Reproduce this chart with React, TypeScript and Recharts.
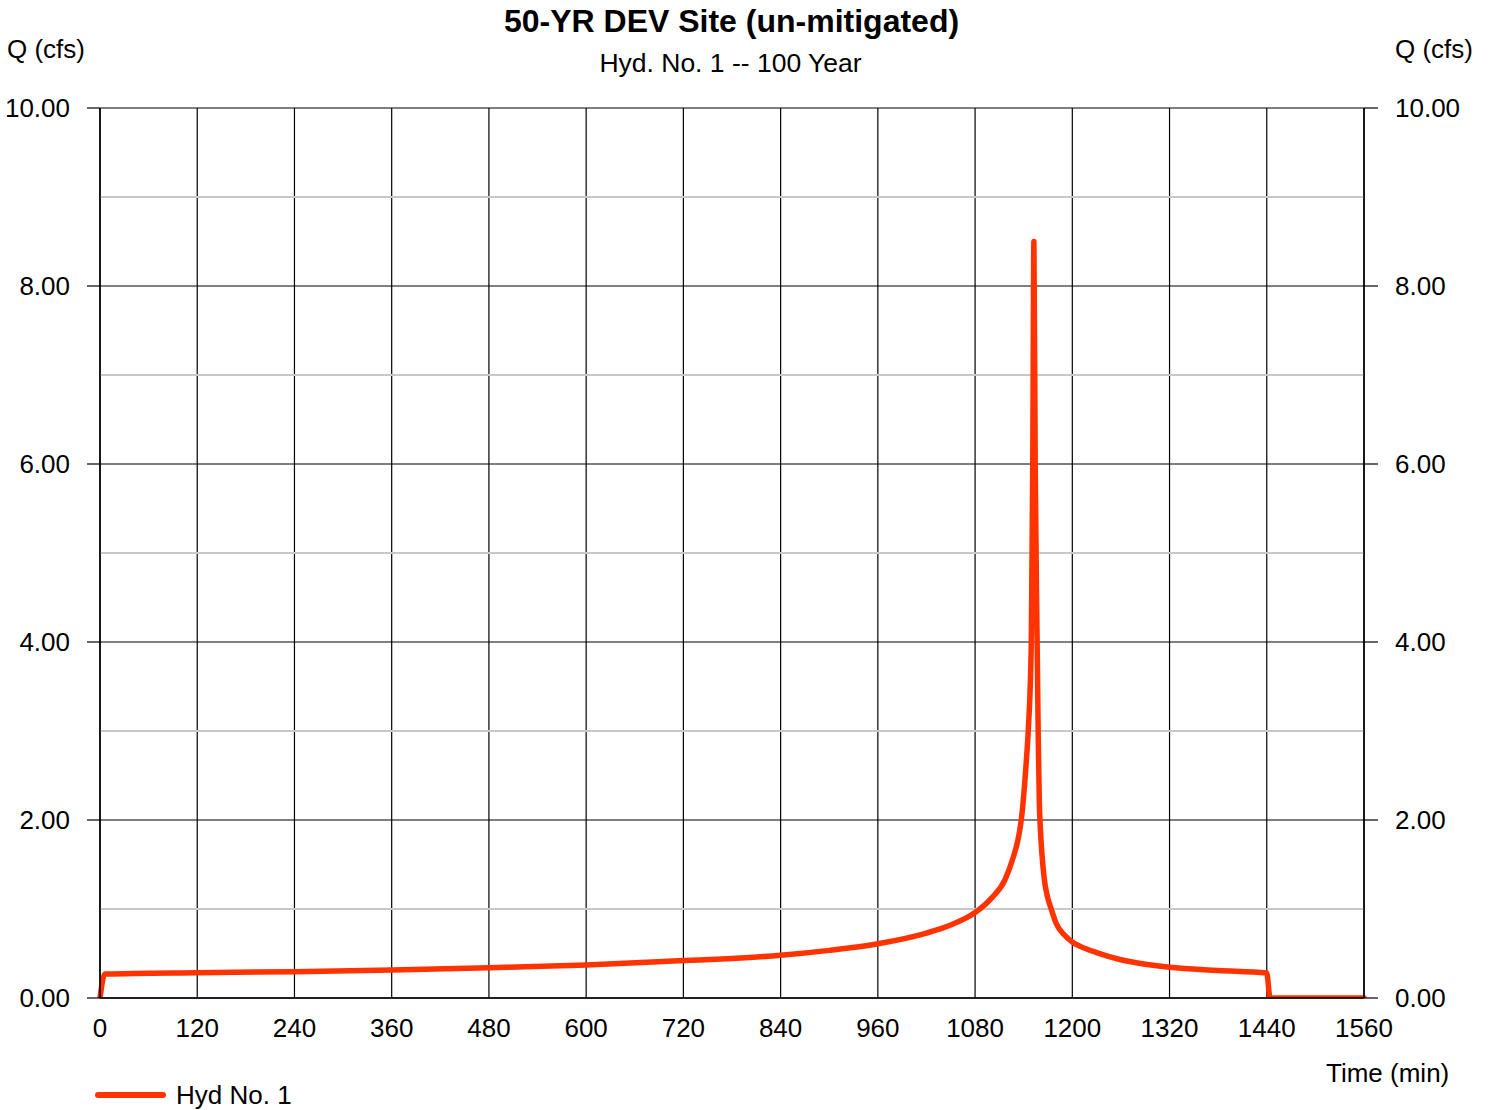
import {
  CartesianGrid,
  Legend,
  Line,
  LineChart,
  ReferenceLine,
  XAxis,
  YAxis,
} from 'recharts';

// Hydrograph ordinates (time in minutes, flow in cfs)
const timeMin = [
  0, 6, 120, 240, 360, 480, 600, 720, 780, 840, 900, 960, 1020, 1050, 1080,
  1100, 1117, 1126, 1133, 1137, 1143.3, 1145.6, 1149.4, 1151.2, 1152.6,
  1154.2, 1156.6, 1158, 1159.3, 1160.6, 1162.5, 1165.5, 1169, 1174, 1180,
  1190, 1200, 1210, 1230, 1260, 1290, 1320, 1380, 1440, 1444, 1560,
];
const flowCfs = [
  0, 0.27, 0.285, 0.295, 0.315, 0.34, 0.37, 0.42, 0.445, 0.48, 0.535, 0.61,
  0.73, 0.82, 0.96, 1.12, 1.33, 1.55, 1.78, 2.0, 2.67, 3.0, 4.0, 6.0, 8.5,
  6.0, 4.0, 2.9, 2.2, 1.9, 1.62, 1.33, 1.15, 1.0, 0.84, 0.71, 0.63, 0.58,
  0.51, 0.43, 0.38, 0.345, 0.31, 0.28, 0, 0,
];

const xTicks = [0, 120, 240, 360, 480, 600, 720, 840, 960, 1080, 1200, 1320, 1440, 1560];
const yTicks = [0, 2, 4, 6, 8, 10];
const yMinor = [1, 3, 5, 7, 9];

const seriesName = 'Hyd No. 1';
const chartTitle = '50-YR DEV Site (un-mitigated)';
const chartSubtitle = 'Hyd. No. 1 -- 100 Year';

const data = timeMin.map((t, i) => ({ t, q: flowCfs[i] }));

const FONT = '"Liberation Sans", Arial, sans-serif';
const RED = '#ff3300';
const tickStyle = { fontSize: 26, fill: '#000', fontFamily: FONT };

const label = (extra: React.CSSProperties): React.CSSProperties => ({
  position: 'absolute',
  fontFamily: FONT,
  fontSize: 26,
  lineHeight: 1,
  color: '#000',
  whiteSpace: 'nowrap',
  ...extra,
});

const LegendContent = () => (
  <div style={{ display: 'flex', alignItems: 'center', fontFamily: FONT, fontSize: 26 }}>
    <svg width={72} height={10} style={{ display: 'block' }}>
      <line x1={3} y1={5} x2={68} y2={5} stroke={RED} strokeWidth={6} strokeLinecap='round' />
    </svg>
    <span style={{ marginLeft: 9, lineHeight: 1 }}>{seriesName}</span>
  </div>
);

const App = () => {
  return (
    <div
      style={{
        position: 'absolute',
        left: 0,
        top: 0,
        width: 1493,
        height: 1110,
        background: '#fff',
      }}
    >
      <div style={label({ left: 0, width: 1463, top: 5, textAlign: 'center', fontSize: 32, fontWeight: 'bold' })}>
        {chartTitle}
      </div>
      <div style={label({ left: 0, width: 1461, top: 50, textAlign: 'center', fontSize: 26.5 })}>
        {chartSubtitle}
      </div>
      <div style={label({ left: 7, top: 36 })}>Q (cfs)</div>
      <div style={label({ left: 1395, top: 36 })}>Q (cfs)</div>
      <div style={label({ left: 1326, top: 1060 })}>Time (min)</div>

      <LineChart
        width={1493}
        height={1110}
        data={data}
        margin={{ top: 108, right: 0, bottom: 0, left: 0 }}
      >
        <CartesianGrid yAxisId='left' stroke='#000' strokeWidth={1.2} />
        {yMinor.map((v) => (
          <ReferenceLine key={v} yAxisId='right' y={v} stroke='#c8c8c8' strokeWidth={2} />
        ))}
        <XAxis
          dataKey='t'
          type='number'
          domain={[0, 1560]}
          ticks={xTicks}
          interval={0}
          height={112}
          tickLine={false}
          tickSize={0}
          tickMargin={21}
          axisLine={{ stroke: '#000', strokeWidth: 1.5 }}
          tick={tickStyle}
        />
        <YAxis
          yAxisId='left'
          type='number'
          domain={[0, 10]}
          allowDataOverflow
          ticks={yTicks}
          interval={0}
          width={100}
          tickSize={13}
          tickMargin={17}
          tickFormatter={(v: number) => v.toFixed(2)}
          tickLine={{ stroke: '#000', strokeWidth: 1.2 }}
          axisLine={{ stroke: '#000', strokeWidth: 1.5 }}
          tick={tickStyle}
        />
        <YAxis
          yAxisId='right'
          orientation='right'
          type='number'
          domain={[0, 10]}
          allowDataOverflow
          ticks={yTicks}
          interval={0}
          width={129}
          tickSize={14}
          tickMargin={17}
          tickFormatter={(v: number) => v.toFixed(2)}
          tickLine={{ stroke: '#000', strokeWidth: 1.2 }}
          axisLine={{ stroke: '#000', strokeWidth: 1.5 }}
          tick={tickStyle}
        />
        <Legend
          layout='vertical'
          align='center'
          verticalAlign='middle'
          content={<LegendContent />}
          wrapperStyle={{ left: 95, top: 1082, width: 300 }}
        />
        <Line
          yAxisId='left'
          type='monotone'
          dataKey='q'
          name={seriesName}
          stroke={RED}
          strokeWidth={5.5}
          strokeLinejoin='round'
          strokeLinecap='round'
          dot={false}
          activeDot={false}
          isAnimationActive={false}
        />
      </LineChart>
    </div>
  );
};

export default App;
